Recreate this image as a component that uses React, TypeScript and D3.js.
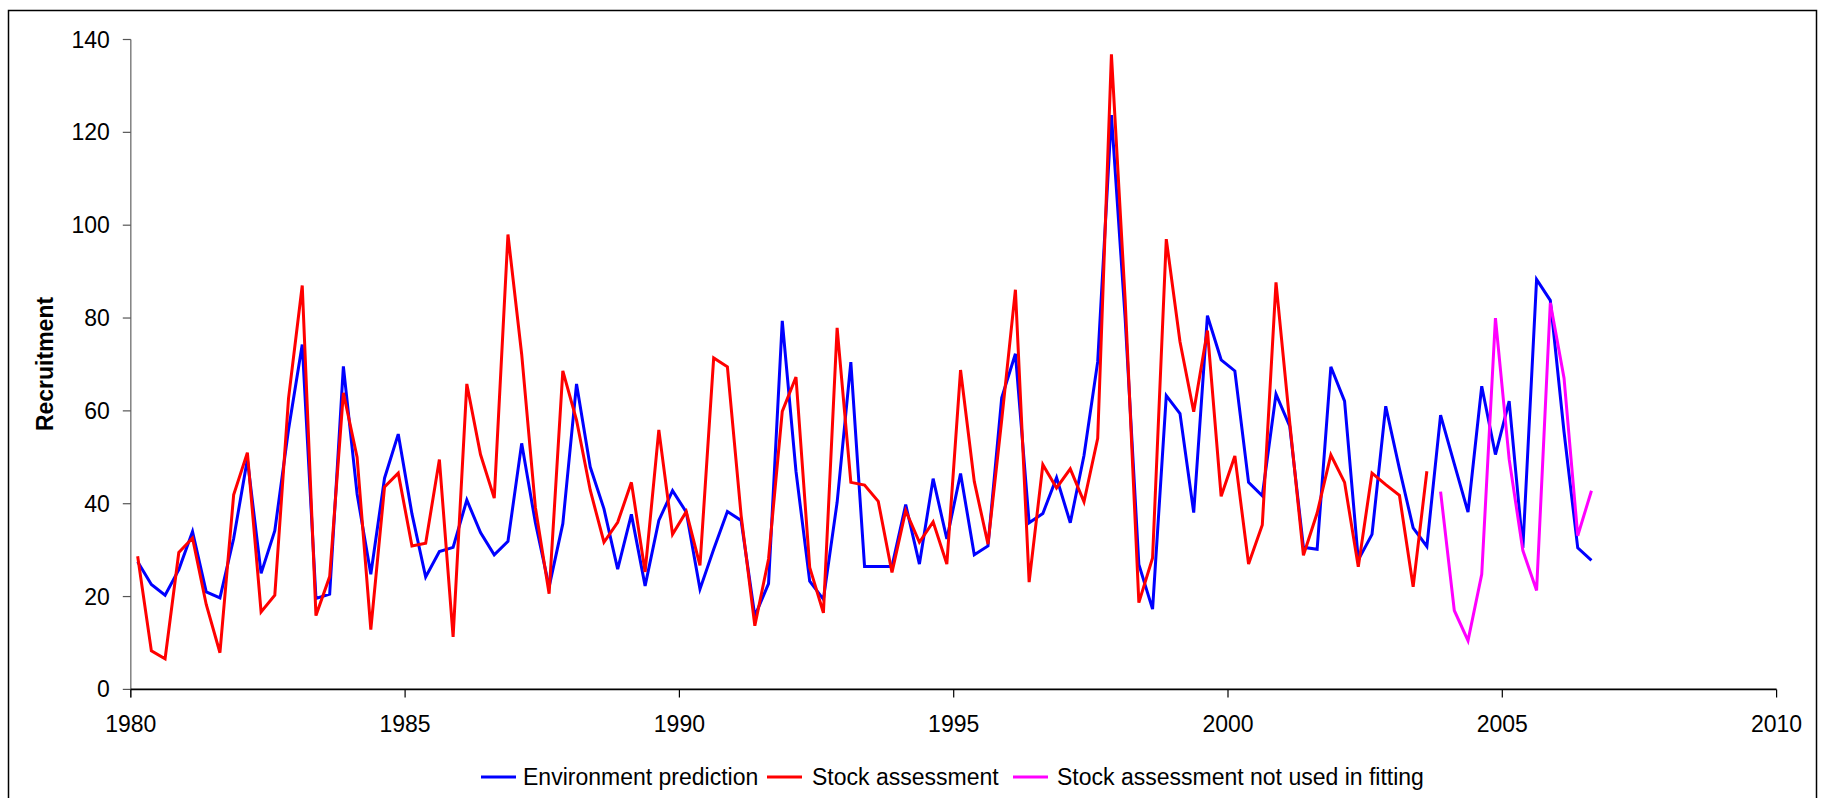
import React from "react";
import * as d3 from "d3";

// Quarterly recruitment series, first quarter of 1980 onward (plotted at mid-quarter)
const startYear = 1980.125;
const step = 0.25;

const environmentPrediction = [
  27.5, 22.6, 20.3, 25.8, 34.0, 21.0, 19.7, 32.5, 49.6, 25.0,
  34.2, 56.0, 74.3, 19.6, 20.5, 69.6, 42.1, 24.8, 45.5, 55.0,
  37.8, 24.2, 29.7, 30.6, 40.8, 33.8, 29.0, 31.9, 53.0, 35.9,
  22.1, 35.7, 65.8, 47.9, 38.9, 25.9, 37.7, 22.3, 36.4, 42.8,
  38.2, 21.6, 30.2, 38.3, 36.4, 15.8, 22.8, 79.4, 47.0, 23.3,
  19.4, 40.3, 70.5, 26.5, 26.5, 26.5, 39.8, 27.0, 45.4, 32.4,
  46.5, 29.0, 30.9, 62.8, 72.3, 35.9, 37.9, 45.6, 35.9, 50.4,
  70.6, 123.7, 80.0, 26.9, 17.3, 63.3, 59.4, 38.1, 80.5, 71.0,
  68.6, 44.6, 41.7, 63.6, 56.7, 30.6, 30.2, 69.5, 62.1, 27.9,
  33.4, 61.0, 47.5, 34.8, 30.8, 59.1, 48.6, 38.2, 65.3, 50.6,
  62.1, 30.5, 88.3, 83.8, 55.5, 30.5, 27.8,
];

const stockAssessment = [
  28.7, 8.3, 6.6, 29.5, 32.6, 18.3, 7.9, 41.9, 51.0, 16.7,
  20.3, 62.7, 87.0, 15.9, 24.3, 63.9, 50.0, 12.9, 43.6, 46.6,
  30.9, 31.5, 49.5, 11.3, 65.8, 50.6, 41.2, 98.0, 72.2, 39.2,
  20.6, 68.6, 58.0, 42.9, 31.7, 36.0, 44.6, 25.3, 55.9, 33.4,
  38.3, 26.7, 71.4, 69.5, 37.5, 13.7, 28.1, 59.9, 67.3, 26.3,
  16.5, 77.9, 44.6, 44.0, 40.5, 25.2, 38.5, 31.7, 36.1, 27.0,
  68.8, 44.8, 31.3, 58.0, 86.1, 23.1, 48.4, 43.4, 47.5, 40.4,
  54.1, 136.8, 84.0, 18.7, 28.3, 97.0, 74.9, 59.8, 77.3, 41.6,
  50.3, 27.0, 35.4, 87.7, 57.5, 28.9, 38.0, 50.5, 44.6, 26.4,
  46.6, 44.1, 41.8, 22.1, 47.0,
];

// Assessment quarters held out of the fit (follow on from stockAssessment)
const stockNotFitted = [42.6, 17.0, 10.5, 24.8, 80.0, 49.6, 29.9, 21.3, 83.3, 67.1, 33.1, 42.8];

const seriesNames = [
  "Environment prediction",
  "Stock assessment",
  "Stock assessment not used in fitting",
];
const seriesColors = ["#0000FF", "#FF0000", "#FF00FF"];

const yTitle = "Recruitment";

const W = 1826;
const H = 798;
const FONT = "'Liberation Sans', Arial, sans-serif";

type Pt = [number, number];

function toPoints(values: number[], offset: number): Pt[] {
  return values.map((v, i) => [startYear + step * (i + offset), v]);
}

export default function App() {
  const x = d3.scaleLinear().domain([1980, 2010]).range([130.8, 1776.6]);
  const y = d3.scaleLinear().domain([0, 140]).range([689.4, 39.5]);

  const line = d3
    .line<Pt>()
    .x((d) => x(d[0]))
    .y((d) => y(d[1]));

  const series: Pt[][] = [
    toPoints(environmentPrediction, 0),
    toPoints(stockAssessment, 0),
    toPoints(stockNotFitted, stockAssessment.length),
  ];

  const xTicks = x.ticks(6);
  const yTicks = y.ticks(7);
  const [x0, x1] = x.range();
  const [y0, y1] = y.range();

  const legendY = 777;
  const legendItems = [
    { mark: 481, text: 523 },
    { mark: 767, text: 812 },
    { mark: 1013, text: 1057 },
  ];

  return (
    <svg
      width={W}
      height={H}
      style={{ position: "absolute", left: 0, top: 0, background: "#fff" }}
      fontFamily={FONT}
    >
      <rect x={8.5} y={10.5} width={1808} height={800} fill="none" stroke="#000" strokeWidth={1.5} />

      {/* y axis */}
      <line x1={x0} x2={x0} y1={y1} y2={y0 + 8} stroke="#808080" strokeWidth={1.5} />
      {yTicks.map((t) => (
        <g key={`y${t}`}>
          <line x1={x0 - 8} x2={x0} y1={y(t)} y2={y(t)} stroke="#555" strokeWidth={1.2} />
          <text x={x0 - 21} y={y(t)} dy="0.35em" textAnchor="end" fontSize={23} fill="#000">
            {t}
          </text>
        </g>
      ))}

      {/* x axis */}
      <line x1={x0} x2={x1} y1={y0} y2={y0} stroke="#000" strokeWidth={1.8} />
      {xTicks.map((t) => (
        <g key={`x${t}`}>
          <line x1={x(t)} x2={x(t)} y1={y0} y2={y0 + 8} stroke="#000" strokeWidth={1.2} />
          <text x={x(t)} y={731.7} textAnchor="middle" fontSize={23} fill="#000">
            {t}
          </text>
        </g>
      ))}

      <text
        transform={`translate(44.5,364) rotate(-90)`}
        textAnchor="middle"
        dy="0.35em"
        fontSize={23}
        fontWeight="bold"
        fill="#000"
      >
        {yTitle}
      </text>

      {series.map((pts, i) => (
        <path
          key={seriesNames[i]}
          d={line(pts) ?? ""}
          fill="none"
          stroke={seriesColors[i]}
          strokeWidth={3}
          strokeLinejoin="miter"
        />
      ))}

      {seriesNames.map((name, i) => (
        <g key={`leg${i}`}>
          <line
            x1={legendItems[i].mark}
            x2={legendItems[i].mark + 35}
            y1={legendY}
            y2={legendY}
            stroke={seriesColors[i]}
            strokeWidth={3}
          />
          <text x={legendItems[i].text} y={legendY} dy="0.35em" fontSize={23} fill="#000">
            {name}
          </text>
        </g>
      ))}
    </svg>
  );
}
